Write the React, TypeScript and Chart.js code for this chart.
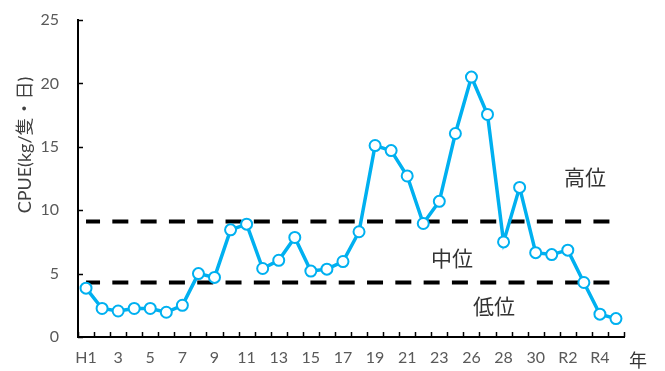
import React, { useEffect, useRef } from "react";
import { Chart, registerables } from "chart.js";

Chart.register(...registerables);

const categories = [
  "H1", "2", "3", "4", "5", "6", "7", "8", "9", "10",
  "11", "12", "13", "14", "15", "16", "17", "18", "19", "20",
  "21", "22", "23", "25", "26", "27", "28", "29", "30",
  "R1", "R2", "R3", "R4", "R5",
];

const cpue = [
  3.85, 2.25, 2.05, 2.25, 2.25, 1.95, 2.5, 5.0, 4.7, 8.45,
  8.9, 5.4, 6.05, 7.85, 5.2, 5.35, 5.95, 8.3, 15.1, 14.7,
  12.7, 8.95, 10.7, 16.05, 20.5, 17.55, 7.5, 11.8, 6.65, 6.5,
  6.85, 4.3, 1.8, 1.45,
];

const highThreshold = 9.1;
const lowThreshold = 4.3;

const yTicks = [0, 5, 10, 15, 20, 25];

const FONT = "Lato, 'Noto Sans CJK JP', sans-serif";
const CJK = "'Noto Sans CJK JP', Lato, sans-serif";

const decorPlugin = {
  id: "decor",
  afterDraw(chart: any) {
    const { ctx, scales } = chart;
    const xs = scales.x;
    const ys = scales.y;
    ctx.save();
    ctx.strokeStyle = "#000";
    ctx.lineWidth = 1.5;
    const n = categories.length;
    const bottom = ys.bottom;
    for (let i = 0; i <= n; i++) {
      const x = Math.round(xs.left + (i * xs.width) / n) + 0.5;
      ctx.beginPath();
      ctx.moveTo(x, bottom);
      ctx.lineTo(x, bottom - 5);
      ctx.stroke();
    }
    for (const v of yTicks) {
      const y = Math.round(ys.getPixelForValue(v)) + 0.5;
      ctx.beginPath();
      ctx.moveTo(xs.left, y);
      ctx.lineTo(xs.left + 5, y);
      ctx.stroke();
    }
    ctx.save();
    ctx.translate(25, 145);
    ctx.rotate(-Math.PI / 2);
    ctx.font = `18px ${FONT}`;
    ctx.fillStyle = "#404040";
    ctx.textAlign = "center";
    ctx.textBaseline = "middle";
    ctx.fillText("CPUE(kg/隻・日)", 0, 0);
    ctx.restore();
    ctx.font = `18px ${CJK}`;
    ctx.fillStyle = "#333";
    ctx.textAlign = "center";
    ctx.textBaseline = "middle";
    ctx.fillText("年", 638, 360);
    ctx.font = `21px ${CJK}`;
    ctx.fillStyle = "#333";
    ctx.fillText("高位", 585, 177);
    ctx.fillText("中位", 452, 258);
    ctx.fillText("低位", 494, 306);
    ctx.restore();
  },
};

export default function App() {
  const ref = useRef<HTMLCanvasElement>(null);

  useEffect(() => {
    if (!ref.current) return;
    const dashStyle = {
      borderColor: "#000",
      borderWidth: 4,
      borderDash: [16, 12.3],
      borderDashOffset: 2,
      pointRadius: 0,
      order: 1,
    };
    const chart = new Chart(ref.current, {
      type: "line",
      data: {
        labels: categories,
        datasets: [
          {
            label: "CPUE",
            data: cpue,
            borderColor: "#00B0F0",
            backgroundColor: "#ffffff",
            borderWidth: 3.5,
            pointRadius: 5.5,
            pointBorderWidth: 2,
            pointBorderColor: "#00B0F0",
            pointBackgroundColor: "#ffffff",
            tension: 0,
            order: 0,
          },
          {
            label: "high",
            data: categories.map(() => highThreshold),
            ...dashStyle,
          },
          {
            label: "low",
            data: categories.map(() => lowThreshold),
            ...dashStyle,
          },
        ],
      },
      options: {
        responsive: false,
        animation: false,
        devicePixelRatio: 1,
        layout: { padding: { left: 0, right: 41, top: 20, bottom: 0 } },
        plugins: {
          legend: { display: false },
          tooltip: { enabled: false },
        },
        scales: {
          x: {
            type: "category",
            offset: true,
            grid: { display: true, drawOnChartArea: false, drawTicks: false },
            border: { display: true, color: "#000", width: 2 },
            ticks: {
              autoSkip: false,
              maxRotation: 0,
              minRotation: 0,
              padding: 11,
              color: "#595959",
              font: { family: FONT, size: 16 },
              callback: (_v: any, i: number) => (i % 2 === 0 ? categories[i] : ""),
            },
            afterFit: (s: any) => {
              s.height = 34;
            },
          },
          y: {
            min: 0,
            max: 25,
            grid: { display: true, drawOnChartArea: false, drawTicks: false },
            border: { display: true, color: "#000", width: 2 },
            ticks: {
              stepSize: 5,
              padding: 19,
              color: "#595959",
              font: { family: FONT, size: 16 },
            },
            afterFit: (s: any) => {
              s.width = 78;
              s.paddingTop = 10;
              s.paddingBottom = 10;
            },
          },
        },
      },
      plugins: [decorPlugin],
    });
    return () => chart.destroy();
  }, []);

  return (
    <div style={{ position: "fixed", left: 0, top: 0, width: 665, height: 371, background: "#fff" }}>
      <canvas ref={ref} width={665} height={371} />
    </div>
  );
}
